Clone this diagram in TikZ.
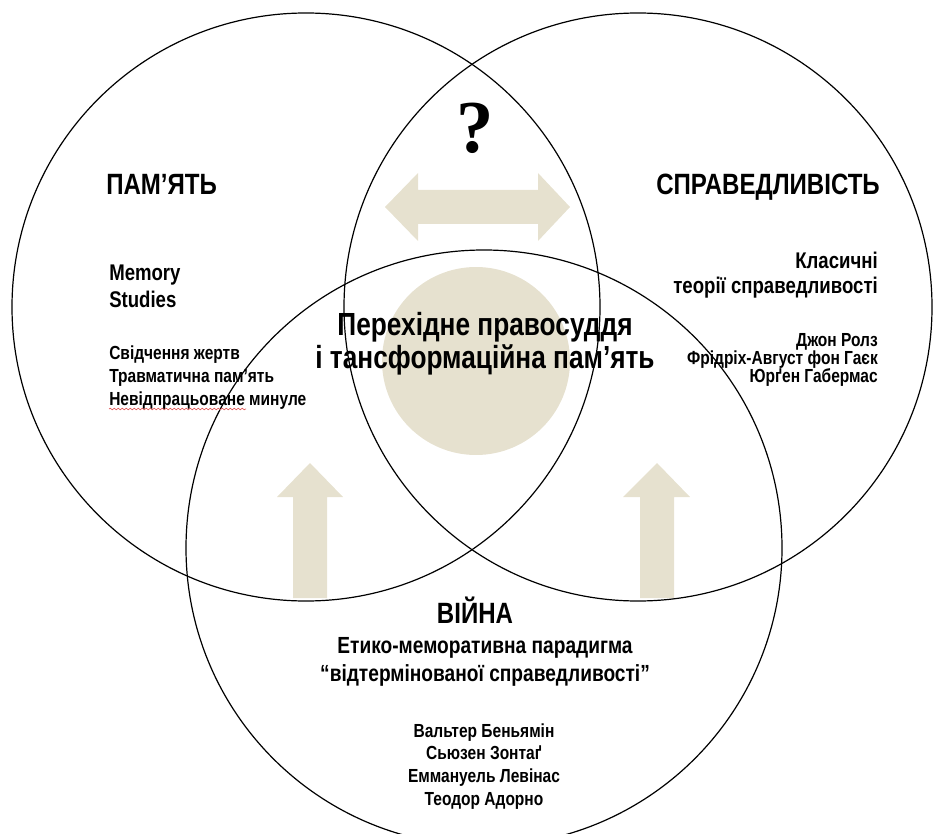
\documentclass[tikz,border=0pt]{standalone}
\usepackage{fontspec}
\setmainfont{Liberation Sans}[FakeStretch=0.82]
\newfontfamily\qmarkfont{Liberation Serif}
\usetikzlibrary{positioning,decorations.pathmorphing}
\definecolor{sand}{RGB}{230,225,207}
\definecolor{squiggle}{RGB}{225,90,90}

\begin{document}
\begin{tikzpicture}[x=0.75pt, y=-0.75pt, every node/.style={inner sep=0pt, font=\bfseries}, ring/.style={draw=black, line width=0.9pt}, blob/.style={fill=sand}, heading/.style={font=\fontsize{22}{26}\selectfont\bfseries}, core/.style={font=\fontsize{24}{24.75}\selectfont\bfseries, align=center}, lead/.style={font=\fontsize{17}{20}\selectfont\bfseries}, names/.style={font=\fontsize{14.2}{17}\selectfont\bfseries}]
\useasboundingbox (0,0) rectangle (934,834);
\fill[blob] (476,361) circle[radius=94];
\fill[blob] (385,207) -- (418,173) -- (418,190) -- (538,190) -- (538,173) -- (570,207) -- (538,241) -- (538,224) -- (418,224) -- (418,241) -- cycle;
\fill[blob] (310,463) -- (343,497) -- (327,497) -- (327,598) -- (293,598) -- (293,497) -- (277,497) -- cycle;
\fill[blob] (657,463) -- (690,497) -- (674,497) -- (674,598) -- (640,598) -- (640,497) -- (623,497) -- cycle;
\draw[ring] (306,307) circle[radius=294];
\draw[ring] (638,307) circle[radius=294];
\draw[ring] (484,548) circle[radius=298];
\node[font=\qmarkfont\fontsize{56}{56}\selectfont\bfseries] (query) at (475,128) {?};
\node[heading, anchor=base west] (memory) at (106,195) {ПАМ’ЯТЬ};
\node[heading, anchor=base east] (justice) at (880,195) {СПРАВЕДЛИВІСТЬ};
\node[heading, anchor=base] (war) at (475,623) {ВІЙНА};
\node[lead, align=left, anchor=base west, font=\fontsize{17}{20.25}\selectfont\bfseries] (studies) at (109,307) {Memory\\Studies};
\node[names, align=left, anchor=base west, font=\fontsize{14.2}{17.25}\selectfont\bfseries] (trauma) at (109,405) {Свідчення жертв\\Травматична пам’ять\\Невідпрацьоване минуле};
\node[lead, align=right, anchor=base east, font=\fontsize{17}{18.75}\selectfont\bfseries] (classic) at (878,293) {Класичні\\теорії справедливості};
\node[names, align=right, anchor=base east, font=\fontsize{14.2}{13.5}\selectfont\bfseries] (thinkers) at (878,382) {Джон Ролз\\Фрідріх-Август фон Гаєк\\Юрґен Габермас};
\node[core, anchor=base] (transit) at (485,368) {Перехідне правосуддя\\і тансформаційна пам’ять};
\node[lead, align=center, anchor=base, font=\fontsize{17.5}{21}\selectfont\bfseries] (paradigm) at (485,681) {Етико-меморативна парадигма\\“відтермінованої справедливості”};
\node[names, align=center, anchor=base, font=\fontsize{14.2}{17}\selectfont\bfseries] (authors) at (484,805) {Вальтер Беньямін\\Сьюзен Зонтаґ\\Еммануель Левінас\\Теодор Адорно};
\draw[squiggle, line width=0.5pt, decorate, decoration={snake, amplitude=0.6pt, segment length=3pt}] (109,409) -- (246,409);
\end{tikzpicture}
\end{document}
